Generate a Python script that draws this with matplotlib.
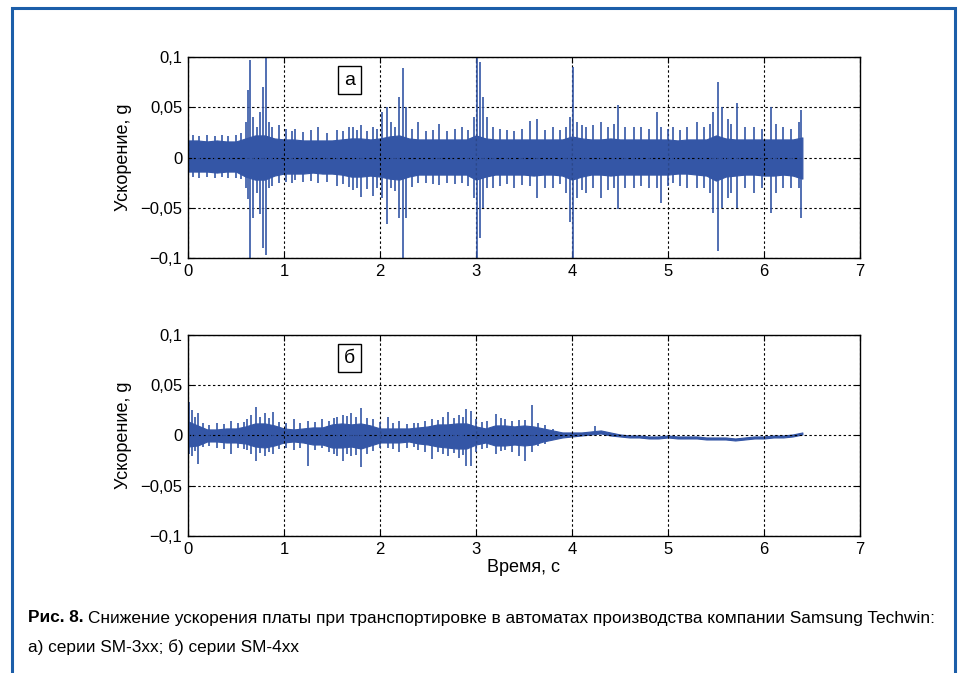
import matplotlib
matplotlib.use("Agg")
import matplotlib.pyplot as plt
from matplotlib.patches import Rectangle

# --- data ----------------------------------------------------------------
# envelope of the dense signal, sampled every 0.1 s (0 .. 6.4 s)
env_t = [round(i * 0.1, 1) for i in range(65)]

a_hi = [0.017, 0.017, 0.016, 0.017, 0.016, 0.016, 0.019, 0.022, 0.022, 0.019,
        0.018, 0.018, 0.017, 0.017, 0.017, 0.017, 0.018, 0.019, 0.019, 0.018,
        0.019, 0.021, 0.022, 0.019, 0.018, 0.018, 0.018, 0.018, 0.018, 0.018,
        0.022, 0.019, 0.018, 0.018, 0.018, 0.018, 0.018, 0.018, 0.018, 0.018,
        0.021, 0.019, 0.018, 0.018, 0.019, 0.018, 0.018, 0.018, 0.018, 0.018,
        0.018, 0.017, 0.018, 0.018, 0.018, 0.022, 0.019, 0.018, 0.018, 0.018,
        0.018, 0.018, 0.018, 0.018, 0.020]
a_lo = [-0.014, -0.014, -0.014, -0.015, -0.014, -0.014, -0.019, -0.022, -0.022, -0.018,
        -0.016, -0.016, -0.016, -0.015, -0.016, -0.016, -0.017, -0.019, -0.019, -0.018,
        -0.019, -0.021, -0.022, -0.019, -0.017, -0.017, -0.017, -0.017, -0.017, -0.017,
        -0.022, -0.019, -0.017, -0.017, -0.017, -0.017, -0.018, -0.017, -0.017, -0.018,
        -0.022, -0.019, -0.017, -0.017, -0.018, -0.017, -0.017, -0.017, -0.017, -0.017,
        -0.017, -0.016, -0.016, -0.017, -0.018, -0.023, -0.019, -0.018, -0.017, -0.017,
        -0.018, -0.018, -0.017, -0.018, -0.021]

b_hi = [0.014, 0.010, 0.006, 0.006, 0.007, 0.007, 0.009, 0.012, 0.012, 0.010,
        0.007, 0.006, 0.007, 0.008, 0.008, 0.011, 0.012, 0.011, 0.012, 0.010,
        0.007, 0.007, 0.007, 0.007, 0.008, 0.009, 0.011, 0.011, 0.012, 0.012,
        0.009, 0.007, 0.010, 0.010, 0.009, 0.010, 0.009, 0.007, 0.005, 0.003,
        0.003, 0.003, 0.004, 0.005, 0.003, 0.001, 0.000, 0.000, -0.001, -0.001,
        0.000, -0.001, -0.001, -0.001, -0.002, -0.002, -0.002, -0.003, -0.002, -0.001,
        -0.001, 0.000, 0.000, 0.001, 0.003]
b_lo = [-0.011, -0.010, -0.006, -0.006, -0.007, -0.007, -0.008, -0.011, -0.012, -0.010,
        -0.007, -0.006, -0.007, -0.009, -0.009, -0.012, -0.012, -0.011, -0.013, -0.010,
        -0.007, -0.007, -0.007, -0.006, -0.008, -0.009, -0.011, -0.012, -0.013, -0.013,
        -0.009, -0.007, -0.010, -0.010, -0.009, -0.010, -0.009, -0.006, -0.004, -0.002,
        -0.001, 0.000, 0.001, 0.002, 0.000, -0.001, -0.002, -0.002, -0.003, -0.003,
        -0.002, -0.003, -0.003, -0.003, -0.004, -0.004, -0.004, -0.005, -0.004, -0.003,
        -0.003, -0.002, -0.002, -0.001, 0.001]

# isolated peaks: time, max, min
a_peak_t = [0.05, 0.12, 0.20, 0.28, 0.35, 0.42, 0.50, 0.55,
            0.60, 0.63, 0.65, 0.68, 0.72, 0.75, 0.78, 0.81, 0.84, 0.88, 0.95,
            1.02, 1.08, 1.12, 1.20, 1.28, 1.35, 1.45, 1.55, 1.62, 1.68, 1.72,
            1.76, 1.80, 1.86, 1.93, 1.97, 2.02, 2.07, 2.12, 2.16, 2.20, 2.24,
            2.27, 2.33, 2.40, 2.48, 2.55, 2.62, 2.70, 2.78, 2.85, 2.92, 2.98,
            3.01, 3.04, 3.07, 3.12, 3.18, 3.25, 3.32, 3.40, 3.48, 3.56, 3.64,
            3.72, 3.80, 3.88, 3.94, 3.98, 4.01, 4.05, 4.10, 4.15, 4.22, 4.30,
            4.38, 4.44, 4.48, 4.55, 4.65, 4.72, 4.80, 4.89, 4.93, 5.00, 5.05,
            5.12, 5.20, 5.30, 5.38, 5.44, 5.47, 5.52, 5.56, 5.62, 5.66, 5.72,
            5.80, 5.90, 5.98, 6.07, 6.12, 6.20, 6.28, 6.36, 6.39]
a_peak_hi = [0.022, 0.021, 0.022, 0.021, 0.022, 0.021, 0.022, 0.024,
             0.035, 0.067, 0.097, 0.040, 0.030, 0.045, 0.070, 0.100, 0.035, 0.030, 0.032,
             0.028, 0.026, 0.028, 0.025, 0.027, 0.030, 0.024, 0.027, 0.026, 0.030, 0.030,
             0.027, 0.032, 0.026, 0.030, 0.028, 0.045, 0.050, 0.035, 0.030, 0.060, 0.089,
             0.050, 0.028, 0.035, 0.026, 0.027, 0.033, 0.026, 0.028, 0.030, 0.027, 0.040,
             0.100, 0.095, 0.060, 0.040, 0.030, 0.028, 0.027, 0.026, 0.028, 0.036, 0.038,
             0.027, 0.030, 0.027, 0.030, 0.040, 0.090, 0.035, 0.032, 0.030, 0.032, 0.035,
             0.030, 0.033, 0.052, 0.030, 0.030, 0.030, 0.028, 0.045, 0.030, 0.028, 0.030,
             0.027, 0.030, 0.035, 0.030, 0.033, 0.045, 0.075, 0.050, 0.038, 0.033, 0.054,
             0.030, 0.030, 0.028, 0.050, 0.033, 0.030, 0.028, 0.035, 0.047]
a_peak_lo = [-0.019, -0.020, -0.019, -0.020, -0.019, -0.020, -0.020, -0.021,
             -0.030, -0.041, -0.100, -0.060, -0.035, -0.056, -0.090, -0.097, -0.030, -0.028, -0.025,
             -0.024, -0.025, -0.022, -0.024, -0.023, -0.025, -0.024, -0.028, -0.026, -0.029, -0.032,
             -0.030, -0.039, -0.031, -0.038, -0.030, -0.040, -0.066, -0.030, -0.033, -0.060, -0.100,
             -0.060, -0.029, -0.025, -0.025, -0.026, -0.027, -0.025, -0.026, -0.025, -0.028, -0.040,
             -0.100, -0.080, -0.050, -0.030, -0.030, -0.028, -0.026, -0.030, -0.027, -0.028, -0.040,
             -0.030, -0.030, -0.026, -0.035, -0.064, -0.100, -0.040, -0.032, -0.035, -0.030, -0.040,
             -0.032, -0.030, -0.051, -0.030, -0.030, -0.028, -0.030, -0.030, -0.045, -0.028, -0.025,
             -0.028, -0.030, -0.030, -0.030, -0.035, -0.055, -0.093, -0.050, -0.040, -0.035, -0.050,
             -0.030, -0.035, -0.030, -0.055, -0.035, -0.030, -0.030, -0.030, -0.060]

b_peak_t = [0.01, 0.04, 0.07, 0.10, 0.16, 0.22, 0.30, 0.38, 0.45, 0.52, 0.58,
            0.62, 0.66, 0.71, 0.75, 0.80, 0.84, 0.89, 0.95, 1.02, 1.10, 1.17,
            1.25, 1.32, 1.40, 1.47, 1.52, 1.55, 1.61, 1.66, 1.70, 1.75, 1.80,
            1.86, 1.93, 2.00, 2.08, 2.14, 2.20, 2.28, 2.35, 2.40, 2.47, 2.54,
            2.60, 2.66, 2.71, 2.77, 2.82, 2.86, 2.90, 2.95, 3.00, 3.06, 3.12,
            3.21, 3.26, 3.30, 3.38, 3.45, 3.51, 3.58, 3.65, 3.72, 3.80, 4.24]
b_peak_hi = [0.033, 0.025, 0.018, 0.022, 0.012, 0.010, 0.012, 0.011, 0.014, 0.012, 0.013,
             0.016, 0.020, 0.028, 0.018, 0.022, 0.017, 0.023, 0.013, 0.012, 0.016, 0.012,
             0.014, 0.013, 0.016, 0.014, 0.017, 0.018, 0.020, 0.019, 0.022, 0.018, 0.027,
             0.017, 0.016, 0.013, 0.018, 0.012, 0.014, 0.011, 0.012, 0.012, 0.014, 0.016,
             0.015, 0.018, 0.023, 0.017, 0.020, 0.018, 0.026, 0.024, 0.016, 0.013, 0.014,
             0.021, 0.017, 0.016, 0.014, 0.015, 0.015, 0.030, 0.012, 0.010, 0.006, 0.009]
b_peak_lo = [-0.018, -0.020, -0.015, -0.028, -0.011, -0.010, -0.012, -0.013, -0.018, -0.012, -0.013,
             -0.014, -0.018, -0.025, -0.017, -0.020, -0.016, -0.018, -0.013, -0.012, -0.014, -0.012,
             -0.030, -0.014, -0.012, -0.016, -0.018, -0.020, -0.025, -0.018, -0.020, -0.019, -0.031,
             -0.018, -0.015, -0.012, -0.012, -0.013, -0.016, -0.012, -0.011, -0.014, -0.016, -0.023,
             -0.016, -0.018, -0.020, -0.017, -0.022, -0.019, -0.030, -0.030, -0.016, -0.013, -0.012,
             -0.018, -0.015, -0.014, -0.016, -0.020, -0.025, -0.016, -0.010, -0.008, -0.005, 0.000]

x_ticks = [0, 1, 2, 3, 4, 5, 6, 7]
y_ticks = [-0.1, -0.05, 0, 0.05, 0.1]
y_tick_labels = ["\u22120,1", "\u22120,05", "0", "0,05", "0,1"]
panel_labels = ["а", "б"]

# --- drawing ---------------------------------------------------------------
plt.rcParams["font.family"] = ["Liberation Sans", "DejaVu Sans"]
sig_color = "#3456a6"

fig = plt.figure(figsize = (9.58, 6.73), dpi = 100)
ax_a = fig.add_axes([0.1962, 0.6166, 0.7015, 0.2987])
ax_b = fig.add_axes([0.1962, 0.2036, 0.7015, 0.2987])

panels = [(ax_a, a_hi, a_lo, a_peak_t, a_peak_hi, a_peak_lo),
          (ax_b, b_hi, b_lo, b_peak_t, b_peak_hi, b_peak_lo)]

for i, (ax, hi, lo, pt, phi, plo) in enumerate(panels):
    ax.fill_between(env_t, lo, hi, color = sig_color, lw = 0.8, edgecolor = sig_color)
    ax.vlines(pt, plo, phi, color = sig_color, lw = 1.2)
    ax.set_xlim(0, 7)
    ax.set_ylim(-0.1, 0.1)
    ax.set_xticks(x_ticks)
    ax.set_yticks(y_ticks)
    ax.set_yticklabels(y_tick_labels)
    ax.grid(True, color = "black", linestyle = (0, (2.2, 2.2)), lw = 0.8)
    ax.tick_params(direction = "in", length = 4, top = True, right = True,
                   labelsize = 12, pad = 4)
    for sp in ax.spines.values():
        sp.set_linewidth(1.0)
    ax.set_ylabel("Ускорение, g", fontsize = 13, labelpad = 6)
    ax.text(1.68, 0.077, panel_labels[i], fontsize = 14, ha = "center", va = "center",
            bbox = dict(boxstyle = "square,pad=0.3", fc = "white", ec = "black", lw = 1))

ax_b.set_xlabel("Время, с", fontsize = 13, labelpad = 2)

# figure frame
fig.add_artist(Rectangle((12 / 958, -0.05), 943 / 958, 1 - 8 / 673 + 0.05,
                         transform = fig.transFigure, fill = False,
                         ec = "#1c5ea9", lw = 2.2))

# caption: bold figure number, then the plain text right after it
cap_size = 12.4
t_num = fig.text(28 / 958, 1 - 618 / 673, "Рис. 8.", fontsize = cap_size,
                 fontweight = "bold", va = "center")
fig.canvas.draw()
bb = t_num.get_window_extent()
fig.text((bb.x1 + 4) / 958, 1 - 618 / 673,
         "Снижение ускорения платы при транспортировке в автоматах производства компании Samsung Techwin:",
         fontsize = cap_size, va = "center")
fig.text(28 / 958, 1 - 647 / 673, "а) серии SM-3xx; б) серии SM-4xx",
         fontsize = cap_size, va = "center")

plt.savefig("out.png", dpi = 100)
